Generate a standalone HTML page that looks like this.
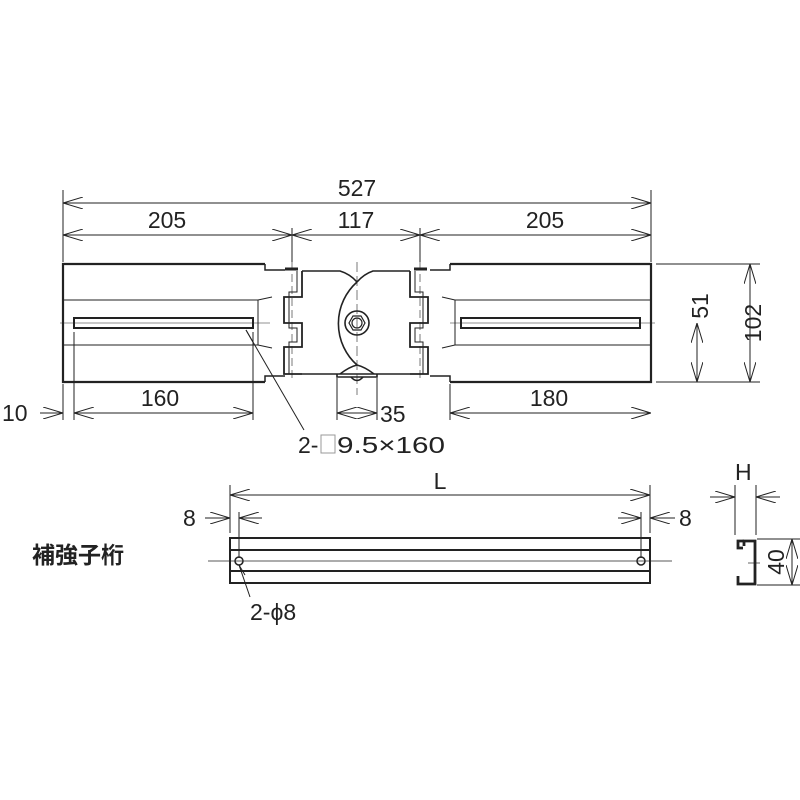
<!DOCTYPE html>
<html><head><meta charset="utf-8"><style>
body{margin:0;background:#fff}
svg{display:block}
text{font-family:"Liberation Sans","Noto Sans CJK JP",sans-serif;fill:#222}
</style></head><body>
<svg width="800" height="800" viewBox="0 0 800 800" xmlns="http://www.w3.org/2000/svg">
<defs>
<marker id="a" viewBox="0 0 20 12" refX="20" refY="6" markerWidth="20" markerHeight="12" markerUnits="userSpaceOnUse" orient="auto-start-reverse">
<path d="M0,0 L20,6 L0,12" fill="none" stroke="#222" stroke-width="1"/></marker>
</defs>
<g stroke="#222" fill="none" stroke-width="1">
<line x1="63" y1="190" x2="63" y2="262"/>
<line x1="651" y1="190" x2="651" y2="262"/>
<line x1="292" y1="228" x2="292" y2="262"/>
<line x1="420" y1="228" x2="420" y2="262"/>
<line x1="63" y1="203" x2="651" y2="203" marker-start="url(#a)" marker-end="url(#a)"/>
<line x1="63" y1="235" x2="292" y2="235" marker-start="url(#a)" marker-end="url(#a)"/>
<line x1="292" y1="235" x2="420" y2="235" marker-start="url(#a)" marker-end="url(#a)"/>
<line x1="420" y1="235" x2="651" y2="235" marker-start="url(#a)" marker-end="url(#a)"/>
<path d="M265,264 H63 V382 H265" stroke-width="2.2"/>
<path d="M265,264 V270 H285 M265,382 V376 H285" stroke-width="1.5"/>
<line x1="63" y1="300" x2="258" y2="300"/>
<line x1="63" y1="345" x2="258" y2="345"/>
<line x1="258" y1="300" x2="258" y2="345"/>
<line x1="258" y1="300" x2="272" y2="297"/><line x1="258" y1="345" x2="272" y2="348"/>
<rect x="74" y="318" width="179" height="10" stroke-width="2"/>
<line x1="60" y1="323" x2="270" y2="323" stroke-width="0.6"/>
<path d="M450,264 H651 V382 H450" stroke-width="2.2"/>
<path d="M450,264 V270 H430 M450,382 V376 H430" stroke-width="1.5"/>
<line x1="455" y1="300" x2="651" y2="300"/>
<line x1="455" y1="345" x2="651" y2="345"/>
<line x1="455" y1="300" x2="455" y2="345"/>
<line x1="455" y1="300" x2="442" y2="297"/><line x1="455" y1="345" x2="442" y2="348"/>
<rect x="461" y="318" width="179" height="10" stroke-width="2"/>
<line x1="450" y1="323" x2="655" y2="323" stroke-width="0.6"/>
<path d="M302,271 V297 H284 V323 H302 V347 H284 V374 H302" stroke-width="1.8"/>
<path d="M297,271 V292 H289 V328 H297 V342 H289 V374" stroke-width="1"/>
<path d="M285,269 H298" stroke-width="3"/>
<line x1="292" y1="262" x2="292" y2="380" stroke-dasharray="8,4" stroke-width="0.6"/>
<path d="M410,271 V297 H428 V323 H410 V347 H428 V374 H410" stroke-width="1.8"/>
<path d="M415,271 V292 H423 V328 H415 V342 H423 V374" stroke-width="1"/>
<path d="M414,269 H427" stroke-width="3"/>
<line x1="420" y1="262" x2="420" y2="380" stroke-dasharray="8,4" stroke-width="0.6"/>
<path d="M302,271 H340 Q350,274 357,282" stroke-width="1.6"/>
<path d="M410,271 H373 Q364,274 357,282" stroke-width="1.6"/>
<path d="M357,282 A55.6,55.6 0 0 0 357,365" stroke-width="1.6"/>
<path d="M302,374 H410" stroke-width="1.6"/>
<path d="M340,374 Q349,367 357,365 Q365,367 374,374" stroke-width="1.6"/>
<path d="M337,374 V377 H377 V374" stroke-width="1.6"/>
<path d="M351,377 Q357,384 363,377" stroke-width="1.6"/>
<line x1="357" y1="262" x2="357" y2="395" stroke-dasharray="10,4" stroke-width="0.6"/>
<circle cx="357" cy="323" r="12" stroke-width="1.6"/>
<polygon points="365,323 361,330 353,330 349,323 353,316 361,316" stroke-width="1.2"/>
<circle cx="357" cy="323" r="5" stroke-width="1.2"/>
<line x1="63" y1="384" x2="63" y2="420"/>
<line x1="74" y1="332" x2="74" y2="420"/>
<line x1="253" y1="332" x2="253" y2="420"/>
<line x1="40" y1="413" x2="63" y2="413" marker-end="url(#a)"/>
<line x1="74" y1="413" x2="253" y2="413" marker-start="url(#a)" marker-end="url(#a)"/>
<line x1="337" y1="378" x2="337" y2="420"/>
<line x1="377" y1="378" x2="377" y2="420"/>
<line x1="337" y1="413" x2="377" y2="413" marker-start="url(#a)" marker-end="url(#a)"/>
<line x1="450" y1="384" x2="450" y2="420"/>
<line x1="450" y1="413" x2="651" y2="413" marker-start="url(#a)" marker-end="url(#a)"/>
<line x1="246" y1="330" x2="304" y2="430"/>
<line x1="246" y1="330" x2="254" y2="344"/>
<line x1="656" y1="264" x2="760" y2="264"/>
<line x1="656" y1="382" x2="760" y2="382"/>
<line x1="697" y1="323" x2="697" y2="382" marker-start="url(#a)" marker-end="url(#a)"/>
<line x1="750" y1="264" x2="750" y2="382" marker-start="url(#a)" marker-end="url(#a)"/>
<rect x="230" y="538" width="420" height="45" stroke-width="2"/>
<line x1="230" y1="550" x2="650" y2="550" stroke-width="2"/>
<line x1="230" y1="571" x2="650" y2="571" stroke-width="2"/>
<line x1="208" y1="561" x2="672" y2="561" stroke-width="0.7"/>
<circle cx="239" cy="561" r="4" stroke-width="1.5"/>
<circle cx="641" cy="561" r="4" stroke-width="1.5"/>
<line x1="230" y1="485" x2="230" y2="533"/>
<line x1="650" y1="485" x2="650" y2="533"/>
<line x1="239" y1="512" x2="239" y2="558"/>
<line x1="641" y1="512" x2="641" y2="558"/>
<line x1="230" y1="495" x2="650" y2="495" marker-start="url(#a)" marker-end="url(#a)"/>
<line x1="205" y1="518" x2="230" y2="518" marker-end="url(#a)"/>
<line x1="262" y1="518" x2="239" y2="518" marker-end="url(#a)"/>
<line x1="618" y1="518" x2="641" y2="518" marker-end="url(#a)"/>
<line x1="675" y1="518" x2="650" y2="518" marker-end="url(#a)"/>
<line x1="239" y1="565" x2="250" y2="597"/>
<line x1="239" y1="565" x2="245" y2="575"/>
<path d="M744,546 V541 H755 V584 H738 V576" stroke-width="2.8"/>
<path d="M744,541 H738 V548 H743" stroke-width="2.8"/>
<line x1="735" y1="485" x2="735" y2="535"/>
<line x1="756" y1="485" x2="756" y2="535"/>
<line x1="710" y1="497" x2="735" y2="497" marker-end="url(#a)"/>
<line x1="780" y1="497" x2="756" y2="497" marker-end="url(#a)"/>
<line x1="757" y1="539" x2="800" y2="539"/>
<line x1="757" y1="585" x2="800" y2="585"/>
<line x1="792" y1="539" x2="792" y2="585" marker-start="url(#a)" marker-end="url(#a)"/>
<line x1="748" y1="563" x2="760" y2="563" stroke-width="0.7"/>
</g>
<g font-size="23">
<text x="357" y="196" text-anchor="middle">527</text>
<text x="167" y="228" text-anchor="middle">205</text>
<text x="356" y="228" text-anchor="middle">117</text>
<text x="545" y="228" text-anchor="middle">205</text>
<text x="2" y="421">10</text>
<text x="160" y="406" text-anchor="middle">160</text>
<text x="380" y="422">35</text>
<text x="549" y="406" text-anchor="middle">180</text>
<text x="298" y="453">2-</text>
<rect x="321" y="435" width="14" height="18" fill="none" stroke="#999" stroke-width="1"/>
<text x="337" y="453" textLength="108" lengthAdjust="spacingAndGlyphs">9.5×160</text>
<text transform="translate(708,306) rotate(-90)" text-anchor="middle">51</text>
<text transform="translate(761,323) rotate(-90)" text-anchor="middle">102</text>
<text x="440" y="489" text-anchor="middle">L</text>
<text x="183" y="526">8</text>
<text x="679" y="526">8</text>
<text x="735" y="480">H</text>
<text x="250" y="620">2-ϕ8</text>
<text transform="translate(784,562) rotate(-90)" text-anchor="middle">40</text>
</g>
<text x="32" y="563" font-size="23" font-weight="bold">補強子桁</text>
</svg>
</body></html>
